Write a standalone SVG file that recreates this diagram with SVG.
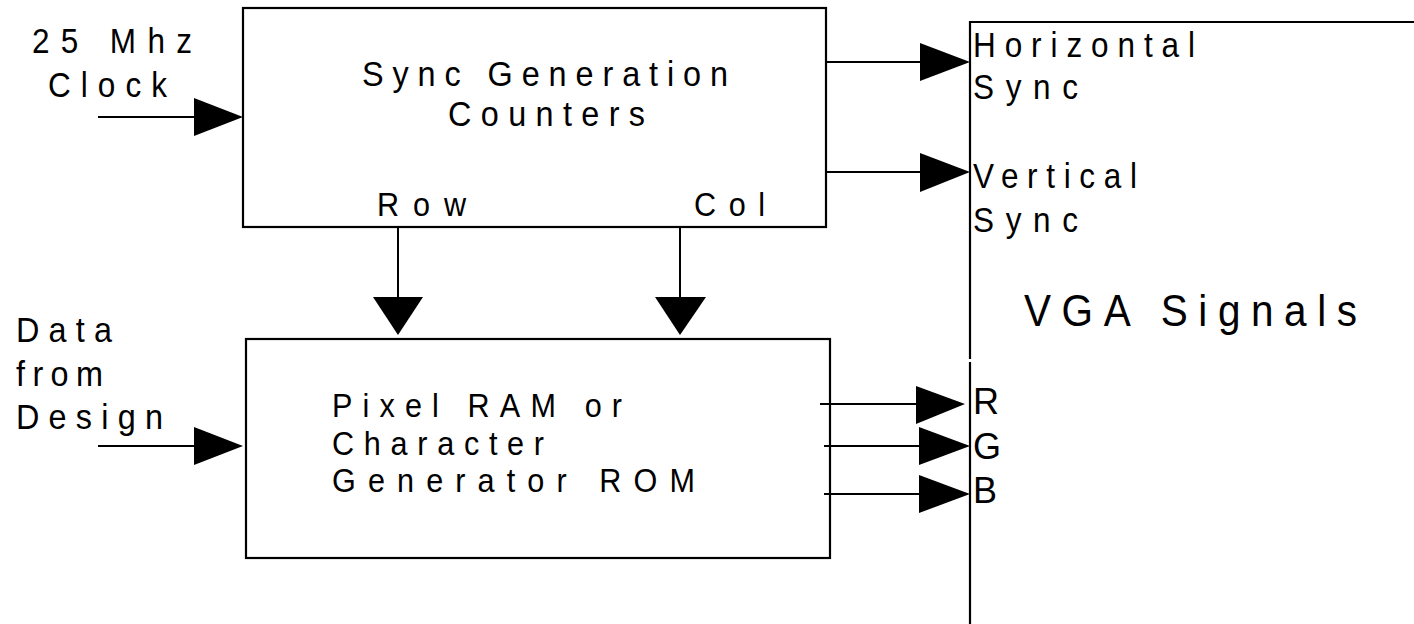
<svg xmlns="http://www.w3.org/2000/svg" width="1414" height="624" viewBox="0 0 1414 624">
<style>
.box{fill:none;stroke:#000;stroke-width:2.2}
.ln{stroke:#000;stroke-width:2;fill:none}
.hd{fill:#000;stroke:none}
text{font-family:"Liberation Sans",Arial,sans-serif;fill:#000}
</style>
<rect width="1414" height="624" fill="#fff"/>
<g id="sync-counters">
<rect class="box" x="243" y="8" width="583" height="219"/>
<text transform="translate(362 86) scale(0.9 1)" font-size="36" textLength="406.7" lengthAdjust="spacing">Sync Generation</text>
<text transform="translate(448 126) scale(0.9 1)" font-size="36" textLength="218.9" lengthAdjust="spacing">Counters</text>
<text transform="translate(377 216) scale(0.9 1)" font-size="34" textLength="98.9" lengthAdjust="spacing">Row</text>
<text transform="translate(694 216) scale(0.9 1)" font-size="34" textLength="78.9" lengthAdjust="spacing">Col</text>
</g>
<g id="pixel-ram">
<rect class="box" x="246" y="339" width="584" height="219"/>
<text transform="translate(332 417) scale(0.9 1)" font-size="34" textLength="322.2" lengthAdjust="spacing">Pixel RAM or</text>
<text transform="translate(332 455) scale(0.9 1)" font-size="34" textLength="235.6" lengthAdjust="spacing">Character</text>
<text transform="translate(332 492) scale(0.9 1)" font-size="34" textLength="403.3" lengthAdjust="spacing">Generator  ROM</text>
</g>
<g id="vga-signals">
<path class="box" d="M1414,22 H970 V359 M970,362 V624"/>
<text transform="translate(1024 326) scale(0.9 1)" font-size="45" textLength="370" lengthAdjust="spacing">VGA Signals</text>
<text transform="translate(973 57) scale(0.9 1)" font-size="35" textLength="246.7" lengthAdjust="spacing">Horizontal</text>
<text transform="translate(973 99) scale(0.9 1)" font-size="35" textLength="116.7" lengthAdjust="spacing">Sync</text>
<text transform="translate(973 188) scale(0.9 1)" font-size="35" textLength="182.2" lengthAdjust="spacing">Vertical</text>
<text transform="translate(973 232) scale(0.9 1)" font-size="35" textLength="116.7" lengthAdjust="spacing">Sync</text>
<text x="973" y="414" font-size="36">R</text>
<text x="973" y="459" font-size="36">G</text>
<text x="973" y="503" font-size="36">B</text>
</g>
<g id="clock-input">
<text transform="translate(32 53) scale(0.9 1)" font-size="35" textLength="177.8" lengthAdjust="spacing">25 Mhz</text>
<text transform="translate(48 97) scale(0.9 1)" font-size="35" textLength="132.2" lengthAdjust="spacing">Clock</text>
</g>
<g id="data-input">
<text transform="translate(16 342) scale(0.9 1)" font-size="36" textLength="106.7" lengthAdjust="spacing">Data</text>
<text transform="translate(16 386) scale(0.9 1)" font-size="36" textLength="96.7" lengthAdjust="spacing">from</text>
<text transform="translate(16 429) scale(0.9 1)" font-size="36" textLength="163.3" lengthAdjust="spacing">Design</text>
</g>
<g id="connectors">
<line class="ln" x1="98" y1="117" x2="196" y2="117"/>
<polygon class="hd" points="194,98 194,136 243,117"/>
<line class="ln" x1="98" y1="446" x2="196" y2="446"/>
<polygon class="hd" points="194,427 194,465 243,446"/>
<line class="ln" x1="825" y1="62" x2="922" y2="62"/>
<polygon class="hd" points="920,43 920,81 970,62"/>
<line class="ln" x1="825" y1="172" x2="922" y2="172"/>
<polygon class="hd" points="920,153 920,192 970,172"/>
<line class="ln" x1="398" y1="227" x2="398" y2="299"/>
<polygon class="hd" points="373,297 423,297 398,335"/>
<line class="ln" x1="680" y1="227" x2="680" y2="299"/>
<polygon class="hd" points="655,297 706,297 680,335"/>
<line class="ln" x1="820" y1="404" x2="918" y2="404"/>
<polygon class="hd" points="916,386 916,424 965,404"/>
<line class="ln" x1="824" y1="446" x2="921" y2="446"/>
<polygon class="hd" points="919,427 919,465 970,446"/>
<line class="ln" x1="824" y1="494" x2="921" y2="494"/>
<polygon class="hd" points="919,475 919,513 970,494"/>
</g>
</svg>
